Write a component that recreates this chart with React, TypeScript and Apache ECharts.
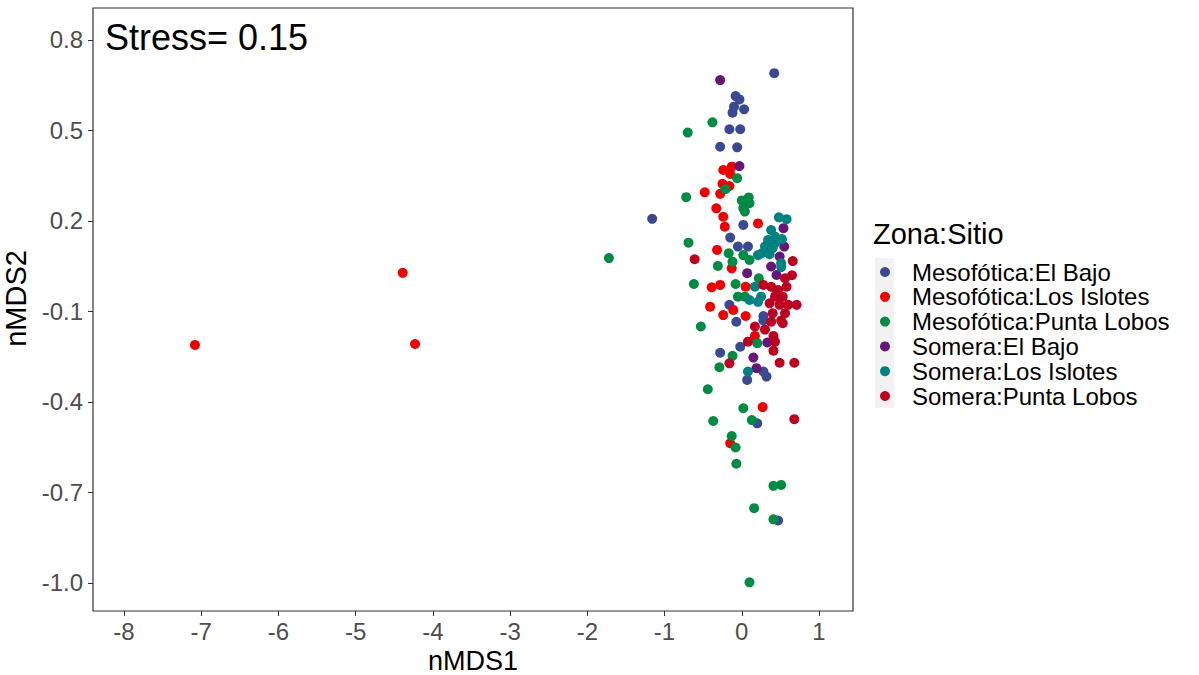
import React, { useEffect, useRef } from "react";
import * as echarts from "echarts";

const seriesNames = [
  "Mesofótica:El Bajo",
  "Mesofótica:Los Islotes",
  "Mesofótica:Punta Lobos",
  "Somera:El Bajo",
  "Somera:Los Islotes",
  "Somera:Punta Lobos",
];
const seriesColors = ["#3B4992", "#EE0000", "#008B45", "#631879", "#008280", "#BB0021"];

const mesoElBajo = [
  [0.42, 0.69], [-0.08, 0.614], [-0.03, 0.603], [-0.1, 0.579], [0.03, 0.57], [-0.12, 0.559],
  [-0.16, 0.504], [-0.02, 0.504], [-0.28, 0.446], [-0.06, 0.444], [-1.16, 0.207], [0.02, 0.187],
  [-0.15, 0.145], [-0.05, 0.115], [0.08, 0.115], [-0.16, -0.078], [-0.07, -0.134], [0.28, -0.115],
  [0.28, -0.13], [-0.02, -0.217], [-0.28, -0.237], [0.28, -0.299], [0.32, -0.316], [0.07, -0.327],
  [0.2, -0.471], [0.47, -0.793],
];
const mesoLosIslotes = [
  [-7.08, -0.211], [-4.39, 0.028], [-4.23, -0.208], [-0.24, 0.369], [-0.13, 0.38], [-0.15, 0.356],
  [-0.25, 0.323], [-0.16, 0.316], [-0.48, 0.295], [-0.28, 0.29], [-0.33, 0.242], [-0.24, 0.214],
  [-0.22, 0.181], [0.21, 0.192], [-0.32, 0.104], [-0.13, 0.043], [-0.39, -0.02], [-0.28, -0.012],
  [0.05, -0.018], [-0.41, -0.084], [-0.11, -0.095], [-0.24, -0.112], [0.05, -0.115], [0.17, -0.181],
  [0.27, -0.417], [-0.15, -0.537],
];
const mesoPuntaLobos = [
  [-1.72, 0.077], [-0.38, 0.527], [-0.7, 0.493], [-0.06, 0.342], [-0.21, 0.305], [-0.72, 0.279],
  [0.0, 0.268], [0.09, 0.278], [0.02, 0.242], [0.1, 0.259], [0.04, 0.231], [-0.69, 0.128],
  [-0.17, 0.093], [-0.12, 0.065], [-0.31, 0.051], [-0.62, -0.009], [-0.08, -0.009], [0.22, 0.01],
  [-0.05, -0.051], [0.04, -0.051], [0.02, 0.087], [0.1, 0.071], [-0.53, -0.15], [0.2, -0.205],
  [-0.12, -0.247], [-0.29, -0.285], [-0.44, -0.358], [0.02, -0.421], [-0.37, -0.463], [0.13, -0.46],
  [-0.13, -0.513], [-0.08, -0.551], [-0.07, -0.605], [0.41, -0.678], [0.51, -0.675], [0.16, -0.752],
  [0.41, -0.789], [0.1, -0.998],
];
const someraElBajo = [
  [-0.28, 0.667], [-0.03, 0.382], [0.54, 0.176], [0.55, 0.115], [0.49, 0.082], [0.38, 0.049],
  [0.45, 0.021], [0.07, 0.027], [0.33, -0.203], [0.15, -0.253], [0.19, -0.288],
];
const someraLosIslotes = [
  [0.48, 0.212], [0.58, 0.206], [0.38, 0.17], [0.43, 0.148], [0.34, 0.137], [0.43, 0.127],
  [0.52, 0.14], [0.3, 0.115], [0.4, 0.11], [0.26, 0.093], [0.21, 0.087], [0.36, 0.09],
  [0.51, 0.06], [0.51, 0.047], [0.17, -0.018], [0.25, -0.051], [0.1, -0.062], [0.21, -0.068],
  [0.45, -0.04], [0.08, -0.299],
];
const someraPuntaLobos = [
  [-0.61, 0.073], [0.66, 0.067], [0.28, -0.012], [0.38, -0.018], [0.56, 0.01], [0.58, -0.018],
  [0.47, -0.029], [0.43, -0.051], [0.53, -0.051], [0.36, -0.073], [0.49, -0.078], [0.6, -0.078],
  [0.71, -0.078], [0.4, -0.106], [0.56, -0.106], [0.38, -0.134], [0.53, -0.139], [0.17, -0.15],
  [0.51, -0.13], [0.08, -0.2], [0.41, -0.181], [0.43, -0.2], [0.41, -0.23], [-0.16, -0.272],
  [0.49, -0.27], [0.68, -0.27], [0.68, -0.457], [0.65, 0.02], [0.3, -0.16],
];

const allData = [mesoElBajo, mesoLosIslotes, mesoPuntaLobos, someraElBajo, someraLosIslotes, someraPuntaLobos];

const xTicks = [-8, -7, -6, -5, -4, -3, -2, -1, 0, 1];
const yTicks = [0.8, 0.5, 0.2, -0.1, -0.4, -0.7, -1.0];

const FONT = "'Liberation Sans', Arial, sans-serif";

export default function App() {
  const ref = useRef<HTMLDivElement>(null);
  useEffect(() => {
    if (!ref.current) return;
    const chart = echarts.init(ref.current, null, { renderer: "svg" });
    chart.setOption({
      animation: false,
      backgroundColor: "#ffffff",
      textStyle: { fontFamily: FONT },
      grid: {
        left: 93,
        right: 346,
        top: 8,
        bottom: 64,
        containLabel: false,
        outerBoundsMode: "none",
        show: true,
        borderColor: "#333333",
        borderWidth: 1.2,
        backgroundColor: "transparent",
      },
      xAxis: {
        type: "value",
        min: -8.4,
        max: 1.44,
        name: "nMDS1",
        nameLocation: "middle",
        nameGap: 28,
        nameTextStyle: { fontSize: 27, lineHeight: 27, color: "#000", fontFamily: FONT },
        axisLine: { show: false, onZero: false },
        splitLine: { show: false },
        axisTick: { show: true, length: 5, lineStyle: { color: "#333" }, customValues: xTicks },
        axisLabel: {
          fontSize: 24,
          color: "#4D4D4D",
          margin: 8,
          fontFamily: FONT,
          customValues: xTicks,
          formatter: (v: number) => String(Math.round(v)),
        },
      },
      yAxis: {
        type: "value",
        min: -1.093,
        max: 0.906,
        name: "nMDS2",
        nameLocation: "middle",
        nameGap: 57,
        nameRotate: 90,
        nameTextStyle: { fontSize: 29, color: "#000", fontFamily: FONT, padding: [0, 0, 0, 22] },
        axisLine: { show: false, onZero: false },
        splitLine: { show: false },
        axisTick: { show: true, length: 5, lineStyle: { color: "#333" }, customValues: yTicks },
        axisLabel: {
          fontSize: 24,
          color: "#4D4D4D",
          margin: 10,
          fontFamily: FONT,
          customValues: yTicks,
          formatter: (v: number) => v.toFixed(1),
        },
      },
      legend: {
        orient: "vertical",
        left: 880,
        top: 260,
        padding: 0,
        itemWidth: 10,
        itemHeight: 10,
        itemGap: 0.8,
        icon: "circle",
        textStyle: {
          fontSize: 24,
          color: "#000",
          lineHeight: 23,
          fontFamily: FONT,
          padding: [0, 0, 0, 17],
        },
        data: seriesNames,
      },
      graphic: [
        {
          type: "rect",
          left: 875,
          top: 258,
          shape: { width: 19, height: 150 },
          style: { fill: "#F2F2F2" },
          z: -1,
        },
        {
          type: "text",
          left: 873,
          top: 219,
          style: { text: "Zona:Sitio", fontSize: 29, fill: "#000", fontFamily: FONT },
        },
        {
          type: "text",
          left: 105,
          top: 19,
          style: { text: "Stress= 0.15", fontSize: 36, fill: "#000", fontFamily: FONT },
        },
      ],
      series: seriesNames.map((name, i) => ({
        name,
        type: "scatter",
        symbol: "circle",
        symbolSize: 10,
        itemStyle: { color: seriesColors[i], opacity: 1 },
        data: allData[i],
      })),
    });
    return () => chart.dispose();
  }, []);
  return (
    <div
      ref={ref}
      style={{ position: "fixed", left: 0, top: 0, width: 1199, height: 675, background: "#fff" }}
    />
  );
}
